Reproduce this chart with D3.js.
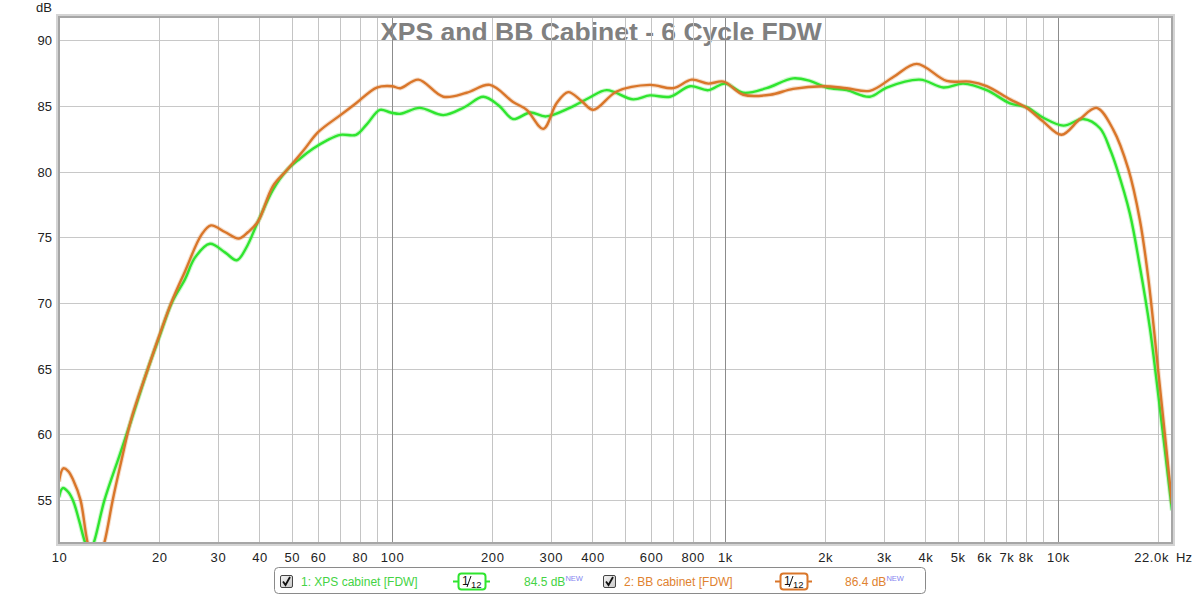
<!DOCTYPE html>
<html><head><meta charset="utf-8">
<script src="https://cdn.jsdelivr.net/npm/d3@7"></script>
<style>
body{margin:0;background:#fff;}
svg{display:block;font-family:"Liberation Sans",Arial,sans-serif;}
</style>
</head><body>
<svg id="c" width="1200" height="596"></svg>
<script>
// ---------- data ----------
const xpsFreq=[10,10.26,10.66,11.04,11.5,12.0,12.35,12.7,13.7,15.2,16.5,18.5,20,21.8,23.9,25.6,28.4,31.5,34.2,36.5,39.6,43.9,48.3,53,58,64,70,78,84,92,99,106,121,142.6,165,188,210,231,260,290,342,390,441,530,595,684,785,891,1000,1135,1333,1602,1800,2020,2320,2723,3059,3852,4525,5195,6108,7178,8054,9036,10380,11910,13370,14330,15000,16440,17620,18880,19770,22000];
const xpsDb=[55.2,55.9,55.6,54.9,53.4,51.7,51.1,51.7,55.0,58.4,61.1,65.0,67.4,70.0,71.8,73.45,74.5,73.85,73.25,74.2,76.2,78.6,80.1,81.0,81.75,82.4,82.8,82.8,83.6,84.7,84.5,84.4,84.85,84.3,84.9,85.7,85.0,84.0,84.5,84.2,84.85,85.6,86.2,85.5,85.8,85.7,86.5,86.2,86.7,86.0,86.35,87.1,86.9,86.4,86.2,85.7,86.4,87.0,86.4,86.7,86.2,85.2,84.9,84.1,83.5,84.0,83.3,81.7,80.3,76.8,72.75,68.1,64.1,54.2];

const bbFreq=[10,10.3,10.65,11.04,11.6,12.2,12.9,13.67,14.5,15.4,16.5,18.5,20,21.8,23.9,26.8,28.6,31.5,34.7,37,39.6,43.9,48.3,54.2,60,70,78,90,100,106,120,142.6,167.5,196.7,231,253.8,284.7,312,338,370,402,473,595,700,794,891,990,1135,1366,1602,1972,2320,2723,3203,3764,4633,5441,6108,7178,8054,9036,10250,11640,13060,14650,16260,17620,18660,20140,22000];
const bbDb=[56.4,57.4,57.2,56.5,55.0,51.7,49.8,51.7,55.0,58.0,61.2,65.0,67.5,70.1,72.4,75.2,75.9,75.4,74.9,75.4,76.2,78.9,80.1,81.6,83.0,84.3,85.2,86.4,86.5,86.35,87.0,85.7,86.0,86.6,85.3,84.7,83.25,85.2,86.05,85.4,84.7,86.1,86.6,86.35,87.0,86.7,86.85,85.85,85.85,86.3,86.5,86.35,86.15,87.2,88.2,86.9,86.85,86.5,85.5,84.85,83.8,82.8,84.0,84.85,83.2,80.2,76.3,71.95,64.1,54.7];

const yTicks=[55,60,65,70,75,80,85,90];
const xLabelFreqs=[10,20,30,40,50,60,80,100,200,300,400,600,800,1000,2000,3000,4000,5000,6000,7000,8000,10000];
const xLabelTexts=["10","20","30","40","50","60","80","100","200","300","400","600","800","1k","2k","3k","4k","5k","6k","7k","8k","10k"];
const gridFreqs=[20,30,40,50,60,70,80,90,100,200,300,400,500,600,700,800,900,1000,2000,3000,4000,5000,6000,7000,8000,9000,10000,20000];
const majorFreqs=[100,1000,10000];
const titleText="XPS and BB Cabinet - 6 Cycle FDW";
const seriesNames=["1: XPS cabinet [FDW]","2: BB cabinet [FDW]"];
const seriesLevels=["84.5 dB","86.4 dB"];
const lineColors=["#2fe52f","#d9762a"];
const textColors=["#44d344","#e08230"];

// ---------- layout ----------
const L=59,R=1172,T=17,B=543;
const svg=d3.select("#c");
const x=d3.scaleLog().domain([10,22000]).range([L,R]);
const y=d3.scaleLinear().domain([51.72,91.77]).range([B,T]);

// frame
svg.append("rect").attr("x",L-2).attr("y",T-2).attr("width",R-L+4).attr("height",B-T+4)
  .attr("fill","none").attr("stroke","#d4d4d4").attr("stroke-width",2);
svg.append("rect").attr("x",L).attr("y",T).attr("width",R-L).attr("height",B-T)
  .attr("fill","#fff").attr("stroke","#a6a6a6").attr("stroke-width",2);

// title (under grid)
svg.append("text").attr("x",601).attr("y",40.5).attr("text-anchor","middle")
  .attr("font-size","26.5px").attr("font-weight","bold").attr("fill","#808080").text(titleText);

// grid
const g=svg.append("g");
g.selectAll("line.h").data(yTicks).join("line")
  .attr("x1",L).attr("x2",R).attr("y1",d=>Math.round(y(d))+0.5).attr("y2",d=>Math.round(y(d))+0.5)
  .attr("stroke","#c8c8c8").attr("stroke-width",1);
g.selectAll("line.v").data(gridFreqs).join("line")
  .attr("y1",T).attr("y2",B).attr("x1",d=>Math.round(x(d))+0.5).attr("x2",d=>Math.round(x(d))+0.5)
  .attr("stroke",d=>majorFreqs.includes(d)?"#8c8c8c":"#c4c4c4").attr("stroke-width",1);

// curves
svg.append("clipPath").attr("id","pc").append("rect").attr("x",L+1).attr("y",T+1).attr("width",R-L-2).attr("height",B-T-2);
const line=d3.line().x(d=>x(d[0])).y(d=>y(d[1])).curve(d3.curveCatmullRom.alpha(0.5));
const series=[d3.zip(xpsFreq,xpsDb),d3.zip(bbFreq,bbDb)];
const cg=svg.append("g").attr("clip-path","url(#pc)");
series.forEach((s,i)=>{
  cg.append("path").datum(s).attr("d",line).attr("fill","none")
    .attr("stroke",lineColors[i]).attr("stroke-opacity",0.25).attr("stroke-width",4.5);
  cg.append("path").datum(s).attr("d",line).attr("fill","none")
    .attr("stroke",lineColors[i]).attr("stroke-width",2.4).attr("stroke-linejoin","round");
});

// redraw frame edges on top
svg.append("rect").attr("x",L).attr("y",T).attr("width",R-L).attr("height",B-T)
  .attr("fill","none").attr("stroke","#a6a6a6").attr("stroke-width",2);

// axes
const xa=svg.append("g").attr("transform",`translate(0,${B})`)
  .call(d3.axisBottom(x).tickValues(xLabelFreqs).tickFormat((d,i)=>xLabelTexts[i]).tickSize(0).tickPadding(0));
xa.select(".domain").remove();
xa.selectAll("text").attr("y",19).attr("dy",0).attr("font-size","13px").attr("fill","#222")
  .attr("letter-spacing","0.6px").attr("font-family","'Liberation Sans',Arial,sans-serif");
svg.append("text").attr("x",1169).attr("y",562).attr("text-anchor","end").attr("font-size","13px")
  .attr("letter-spacing","0.6px").attr("fill","#222").text("22.0k");
svg.append("text").attr("x",1176).attr("y",562).attr("font-size","13px").attr("fill","#222").text("Hz");

const ya=svg.append("g").attr("transform",`translate(${L},0)`)
  .call(d3.axisLeft(y).tickValues(yTicks).tickFormat(d3.format("d")).tickSize(0).tickPadding(7));
ya.select(".domain").remove();
ya.selectAll("text").attr("font-size","13px").attr("fill","#222").attr("dy","0.36em")
  .attr("font-family","'Liberation Sans',Arial,sans-serif");
svg.append("text").attr("x",52).attr("y",11.5).attr("text-anchor","end").attr("font-size","13px").attr("fill","#222").text("dB");

// legend
const lg=svg.append("g");
lg.append("rect").attr("x",274.5).attr("y",567.5).attr("width",651).attr("height",26).attr("rx",4)
  .attr("fill","#fff").attr("stroke","#8a8a8a");
const defs=svg.append("defs");
const gr=defs.append("linearGradient").attr("id","cb").attr("x1",0).attr("y1",0).attr("x2",1).attr("y2",1);
gr.append("stop").attr("offset","0").attr("stop-color","#f4f4f4");
gr.append("stop").attr("offset","1").attr("stop-color","#c8c8c8");
const itemX=[280,603];
const symX=[453,775];
const lvlX=[524,845];
series.forEach((s,i)=>{
  const cx=itemX[i];
  lg.append("rect").attr("x",cx+0.5).attr("y",575.5).attr("width",12).attr("height",12).attr("rx",1.5)
    .attr("fill","url(#cb)").attr("stroke","#444");
  lg.append("path").attr("d",`M${cx+3},${581.5} L${cx+5.5},${585} L${cx+10},${577}`)
    .attr("fill","none").attr("stroke","#111").attr("stroke-width",1.8);
  lg.append("text").attr("x",cx+21).attr("y",586).attr("font-size","12px").attr("fill",textColors[i]).text(seriesNames[i]);
  const sx=symX[i];
  lg.append("line").attr("x1",sx).attr("x2",sx+37).attr("y1",581.5).attr("y2",581.5).attr("stroke",lineColors[i]).attr("stroke-width",2);
  lg.append("rect").attr("x",sx+5.5).attr("y",573.5).attr("width",27).attr("height",16).attr("rx",3)
    .attr("fill","#fff").attr("stroke",lineColors[i]).attr("stroke-width",2);
  lg.append("text").attr("x",sx+9).attr("y",585).attr("font-size","12px").attr("fill","#111").text("1");
  lg.append("line").attr("x1",sx+14).attr("x2",sx+18).attr("y1",587).attr("y2",576).attr("stroke","#111").attr("stroke-width",1);
  lg.append("text").attr("x",sx+18).attr("y",587.5).attr("font-size","9.5px").attr("fill","#111").text("12");
  const lt=lg.append("text").attr("x",lvlX[i]).attr("y",586).attr("font-size","12px").attr("fill",textColors[i]);
  lt.append("tspan").text(seriesLevels[i]);
  lt.append("tspan").attr("font-size","7.5px").attr("dy",-5).attr("fill","#8585f0").text("NEW");
});
</script>
</body></html>
